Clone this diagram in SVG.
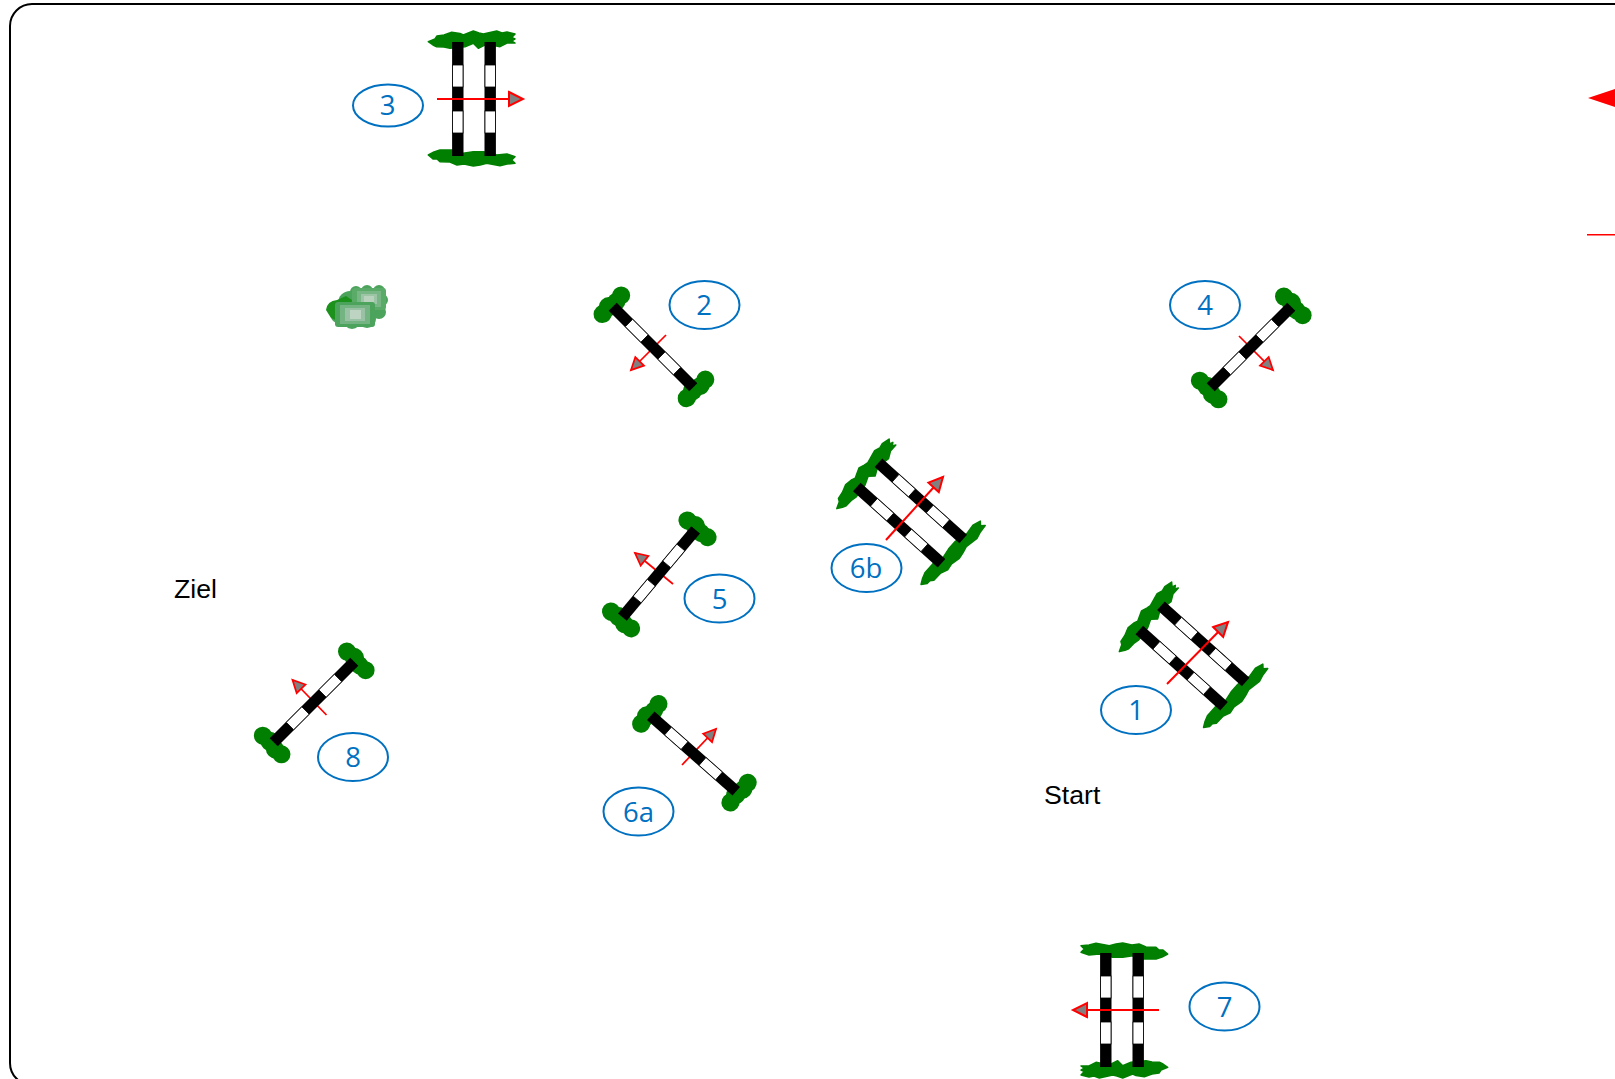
<svg xmlns="http://www.w3.org/2000/svg" width="1615" height="1079" viewBox="0 0 1615 1079">
<style>
.lbl{fill:none;stroke:#0070c0;stroke-width:2}
.num{font-family:"Open Sans","Noto Sans",sans-serif;font-size:27.5px;fill:#0070c0;text-anchor:middle}
.txt{font-family:"Liberation Sans",Arial,sans-serif;font-size:26.67px;fill:#000}
.arr{fill:none;stroke:#ff0000;stroke-width:2;marker-end:url(#head)}
.arr.s{stroke-width:1.75}
.g{fill:#007f00}
.h{fill:#007f00;stroke:#007f00;stroke-width:1.5;stroke-linejoin:round}
</style>
<defs>
<marker id="head" markerUnits="strokeWidth" markerWidth="10" markerHeight="9" refX="8" refY="4.5" orient="auto" overflow="visible">
<path d="M1 1 L8 4.5 L1 8 Z" fill="#808080" stroke="#ff0000" stroke-width="1"/>
</marker>
<g id="bar">
<rect x="-5.7" y="-57" width="11.4" height="114" fill="#000"/>
<rect x="-5.2" y="-34" width="10.4" height="22" fill="#fff" stroke="#000" stroke-width=".8"/>
<rect x="-5.2" y="12" width="10.4" height="22" fill="#fff" stroke="#000" stroke-width=".8"/>
</g>
<g id="lobes" class="g">
<ellipse cx="-12" cy="0" rx="9.5" ry="9"/>
<ellipse cx="-3" cy="-1" rx="10" ry="9.5"/>
<ellipse cx="6" cy="1" rx="9.5" ry="9"/>
<ellipse cx="14" cy="0" rx="9" ry="9"/>
</g>
<g id="single">
<use href="#lobes" transform="translate(0,-59)"/>
<use href="#lobes" transform="translate(0,60)"/>
<use href="#bar"/>
</g>
<g id="double">
<path class="h" d="M-45.7 -57.3L-39 -60L-37 -63L-30 -64L-22.3 -66.7L-14 -65.5L-10.7 -64L-.7 -68L5 -66L9.3 -65L22.7 -68L28 -66L33 -67L41 -65L37.7 -61.5L41 -60L38 -58L41 -56L33 -56L26 -52.3L12.7 -55L4.3 -50.7L-.7 -55.7L-9 -52.3L-24 -50.7L-30 -52L-37.3 -52.3L-41 -54Z"/>
<path class="h" d="M-45.7 56L-40 53L-34 51L-22.3 51L-10.7 54.3L-.7 52.7L9.3 52.7L16 54L22.7 56L33 55L41 57.7L37.7 61L41 64.3L33 65L26 66.7L12.7 64.3L6 66L-.7 67L-10 65L-17 66L-24 63L-34 62.7L-37 60L-41 60Z"/>
<use href="#bar" transform="translate(-16.2,0)"/>
<use href="#bar" transform="translate(16.2,0)"/>
</g>
</defs>
<rect id="frame" x="10" y="4" width="1700" height="1081" rx="22" fill="#fff" stroke="#000" stroke-width="2"/>
<g id="jump-3"><use href="#double" transform="translate(474,99)"/><ellipse class="lbl" cx="388" cy="105.5" rx="35" ry="21"/><text class="num" x="387.5" y="115">3</text></g>
<g id="jump-7"><use href="#double" transform="translate(1122,1010) rotate(180)"/><ellipse class="lbl" cx="1224.5" cy="1006.5" rx="35" ry="24"/><text class="num" x="1224.5" y="1016.5">7</text></g>
<g id="jump-6b"><use href="#double" transform="translate(910,513) rotate(-48)"/><ellipse class="lbl" cx="866.5" cy="568" rx="35" ry="24"/><text class="num" x="866" y="578">6b</text></g>
<g id="jump-1"><use href="#double" transform="translate(1192.5,656) rotate(-48)"/><ellipse class="lbl" cx="1136" cy="710" rx="35" ry="24"/><text class="num" x="1136" y="720">1</text></g>
<g id="tree">
<g fill="#4ba35c">
<circle cx="338" cy="316" r="7"/><circle cx="352" cy="320" r="9"/><circle cx="367" cy="319" r="9"/><circle cx="379" cy="312" r="7"/><circle cx="382" cy="300" r="6"/><circle cx="379" cy="291" r="6"/><circle cx="367" cy="291" r="6"/><circle cx="356" cy="292" r="6"/><circle cx="350" cy="303" r="12"/><circle cx="366" cy="304" r="13"/>
</g>
<path d="M326 310Q327 301 337 300L346 296L352 300L350 315L340 322L331 318Z" fill="#1c911c"/>
<rect x="352" y="288" width="34" height="22" rx="3" fill="#5aab68"/><rect x="357" y="291" width="24" height="16" fill="#79b686"/><rect x="361" y="294" width="16" height="10" fill="#9cc5a6"/><rect x="364" y="296" width="10" height="6" fill="#b8d2bd"/>
<rect x="335" y="302" width="40" height="25" rx="3" fill="#4ba35c"/><rect x="340" y="305" width="30" height="19" fill="#74b382"/><rect x="345" y="308" width="20" height="13" fill="#98c2a3"/><rect x="350" y="310" width="11" height="9" fill="#bcd4c1"/>
</g>
<g id="connectors">
<path class="arr" d="M437 99H523"/>
<path class="arr" d="M1159 1010H1073"/>
<path class="arr" d="M886 540L943 477"/>
<path class="arr" d="M1167 684L1228 622"/>
<path class="arr s" d="M666 335L631 370"/>
<path class="arr s" d="M1239 336L1273 370"/>
<path class="arr s" d="M673 584L635 553"/>
<path class="arr s" d="M682 765L716 729"/>
<path class="arr s" d="M326.5 715L292.5 680"/>
</g>
<g id="jump-2"><use href="#single" transform="translate(653,347) rotate(-45)"/><ellipse class="lbl" cx="704.5" cy="305" rx="35" ry="24"/><text class="num" x="704" y="315">2</text></g>
<g id="jump-4"><use href="#single" transform="translate(1251,347) rotate(45)"/><ellipse class="lbl" cx="1205" cy="305" rx="35" ry="24"/><text class="num" x="1205" y="315">4</text></g>
<g id="jump-5"><use href="#single" transform="translate(659,573.5) rotate(40)"/><ellipse class="lbl" cx="719.5" cy="598.5" rx="35" ry="24"/><text class="num" x="719.5" y="608.5">5</text></g>
<g id="jump-6a"><use href="#single" transform="translate(693.5,753.5) rotate(-48.6)"/><ellipse class="lbl" cx="638.5" cy="811.5" rx="35" ry="24"/><text class="num" x="638.5" y="821.5">6a</text></g>
<g id="jump-8"><use href="#single" transform="translate(314,702) rotate(45)"/><ellipse class="lbl" cx="353" cy="757" rx="35" ry="24"/><text class="num" x="353" y="767">8</text></g>
<polygon points="1588,98 1615,89 1615,107" fill="#ff0000"/>
<rect x="1587" y="234" width="28" height="1.5" fill="#ff0000"/>
<text class="txt" x="174" y="598">Ziel</text>
<text class="txt" x="1044" y="804">Start</text>
</svg>
